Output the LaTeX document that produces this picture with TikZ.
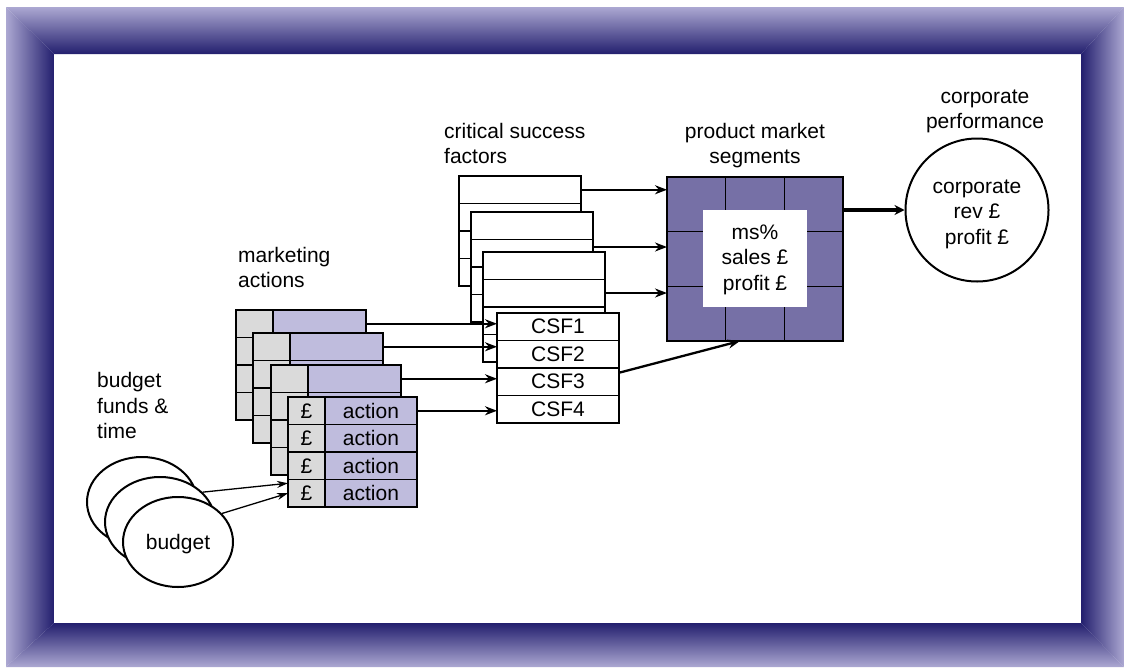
\documentclass[tikz,border=0pt]{standalone}
\usepackage{fontspec}
\setmainfont{Liberation Sans}
\usetikzlibrary{arrows.meta,shapes.geometric}

\definecolor{frameDark}{RGB}{35,31,110}
\definecolor{frameLight}{RGB}{172,168,210}
\definecolor{cardGray}{RGB}{218,218,218}
\definecolor{cardLav}{RGB}{191,188,221}
\definecolor{segPurple}{RGB}{118,112,166}

\tikzset{
  txt/.style={font=\fontsize{21}{25.5}\selectfont, inner sep=0pt},
  lbl/.style={txt, align=left, anchor=base west},
  clbl/.style={txt, align=center, anchor=base},
  box/.style={draw=black, line width=1.6pt},
  actcard/.style={box, fill=cardLav, minimum width=130pt, minimum height=110pt,
                  inner sep=0pt, outer sep=0pt, anchor=north west},
  csfcard/.style={box, fill=white, minimum width=122pt, minimum height=110pt,
                  inner sep=0pt, outer sep=0pt, anchor=north west},
  csfrow/.style={txt, box, fill=white, minimum width=122pt, minimum height=27.5pt,
                 outer sep=0pt, anchor=north west},
  pcell/.style={txt, box, fill=cardGray, minimum width=37pt, minimum height=27.5pt,
                outer sep=0pt, anchor=north west},
  acell/.style={txt, box, fill=cardLav, minimum width=92pt, minimum height=27.5pt,
                outer sep=0pt, anchor=north west},
  budgetdisc/.style={ellipse, draw=black, line width=2pt, fill=white,
                     minimum width=110pt, minimum height=90pt, inner sep=0pt},
  arr/.style={line width=2.3pt, -{Stealth[length=12pt,width=9pt]}},
  thinarr/.style={line width=1.3pt, -{Stealth[length=11pt,width=7pt]}},
  bigarr/.style={line width=3.8pt, -{Stealth[length=10pt,width=10pt]}},
}

% a marketing-action card seen from behind: grey money column, lavender action column
\newcommand\backactioncard[3]{%
  \node[actcard] (#1) at (#2,#3) {};
  \draw[box, fill=cardGray] (#1.north west) rectangle ([xshift=37pt]#1.south west);
  \foreach \k in {1,2,3}
    \draw[box] ([yshift={-27.5pt*\k}]#1.north west) -- ([yshift={-27.5pt*\k}]#1.north east);
}
% a blank critical-success-factor card
\newcommand\backcsfcard[3]{%
  \node[csfcard] (#1) at (#2,#3) {};
  \foreach \k in {1,2,3}
    \draw[box] ([yshift={-27.5pt*\k}]#1.north west) -- ([yshift={-27.5pt*\k}]#1.north east);
}

\begin{document}
\begin{tikzpicture}[x=1pt, y=-1pt]
  \useasboundingbox (0,0) rectangle (1124,667);
  \fill[white] (0,0) rectangle (1124,667);

  % bevelled frame
  \begin{scope}
    \clip (6,7) -- (1124,7) -- (1081,54) -- (54,54) -- cycle;
    \shade[top color=frameLight, bottom color=frameDark] (6,7) rectangle (1124,54);
  \end{scope}
  \begin{scope}
    \clip (54,623) -- (1081,623) -- (1124,667) -- (6,667) -- cycle;
    \shade[top color=frameDark, bottom color=frameLight] (6,623) rectangle (1124,667);
  \end{scope}
  \begin{scope}
    \clip (6,7) -- (54,54) -- (54,623) -- (6,667) -- cycle;
    \shade[left color=frameLight, right color=frameDark] (6,7) rectangle (54,667);
  \end{scope}
  \begin{scope}
    \clip (1124,7) -- (1081,54) -- (1081,623) -- (1124,667) -- cycle;
    \shade[left color=frameDark, right color=frameLight] (1081,7) rectangle (1124,667);
  \end{scope}

  % headings (anchored on the baseline of their last line)
  \node[lbl] (hcsf) at (444,163.5) {critical success\\factors};
  \node[clbl] (hseg) at (755,163.5) {product market\\segments};
  \node[clbl] (hcorp) at (985,128.5) {corporate\\performance};
  \node[lbl] (hmkt) at (238,287.5) {marketing\\actions};
  \node[lbl] (hbud) at (97,438.5) {budget\\funds \&\\time};

  % critical success factor cards
  \backcsfcard{c1}{459}{176}
  \backcsfcard{c2}{471}{212}
  \backcsfcard{c3}{483}{252}
  \node[csfrow] (csf1) at (497,313)    {CSF1};
  \node[csfrow] (csf2) at (497,340.5)  {CSF2};
  \node[csfrow] (csf3) at (497,368)    {CSF3};
  \node[csfrow] (csf4) at (497,395.5)  {CSF4};

  % marketing action cards
  \backactioncard{m1}{236}{310}
  \backactioncard{m2}{253}{333}
  \backactioncard{m3}{271}{365}
  \node[pcell] (p1) at (288,397)   {£};
  \node[acell] (a1) at (325,397)   {action};
  \node[pcell] (p2) at (288,424.5) {£};
  \node[acell] (a2) at (325,424.5) {action};
  \node[pcell] (p3) at (288,452)   {£};
  \node[acell] (a3) at (325,452)   {action};
  \node[pcell] (p4) at (288,479.5) {£};
  \node[acell] (a4) at (325,479.5) {action};

  % budgets
  \node[budgetdisc] (b1) at (142,502) {};
  \node[budgetdisc] (b2) at (160,522) {};
  \node[budgetdisc] (b3) at (178,542) {};
  \node[txt] (btxt) at ([yshift=-2pt]b3.center) {budget};

  % product market segment grid
  \node[box, fill=segPurple, minimum width=176pt, minimum height=164pt,
        inner sep=0pt, outer sep=0pt] (seg) at (755,259) {};
  \foreach \f in {1,2} {
    \draw[box] ([xshift={176pt*\f/3}]seg.north west) -- ([xshift={176pt*\f/3}]seg.south west);
    \draw[box] ([yshift={-164pt*\f/3}]seg.north west) -- ([yshift={-164pt*\f/3}]seg.north east);
  }
  \node[fill=white, minimum width=104pt, minimum height=97pt, inner sep=0pt]
       (segbox) at (755,258.5) {};
  \node[txt, align=center] (segtxt) at ([yshift=-1pt]segbox.center) {ms\%\\sales £\\profit £};

  % corporate performance
  \node[circle, draw=black, line width=2pt, minimum size=143pt, inner sep=0pt]
       (corp) at (977,210) {};
  \node[txt, align=center] (corptxt) at ([yshift=-4pt]corp.center) {corporate\\rev £\\profit £};

  % connectors
  \coordinate (m1o) at ([yshift=-13.75pt]m1.north east);
  \coordinate (m2o) at ([yshift=-13.75pt]m2.north east);
  \coordinate (m3o) at ([yshift=-13.75pt]m3.north east);
  \draw[arr] (m1o) -- (m1o -| csf1.west);
  \draw[arr] (m2o) -- (m2o -| csf2.west);
  \draw[arr] (m3o) -- (m3o -| csf3.west);
  \draw[arr] (a1.east) -- (a1.east -| csf4.west);

  \coordinate (c1o) at ([yshift=-13.75pt]c1.north east);
  \coordinate (c2o) at ([yshift=-35pt]c2.north east);
  \coordinate (c3o) at ([yshift=-41pt]c3.north east);
  \draw[arr] (c1o) -- (c1o -| seg.west);
  \draw[arr] (c2o) -- (c2o -| seg.west);
  \draw[arr] (c3o) -- (c3o -| seg.west);
  \draw[arr] ([yshift=9pt]csf3.east) -- ([xshift=-15pt]seg.south);

  \draw[bigarr] (corp.west -| seg.east) -- (corp.west);

  \draw[thinarr] (b2.35) -- ([yshift=10pt]p4.west);
  \draw[thinarr] (b3.33) -- (p4.west);
\end{tikzpicture}
\end{document}
